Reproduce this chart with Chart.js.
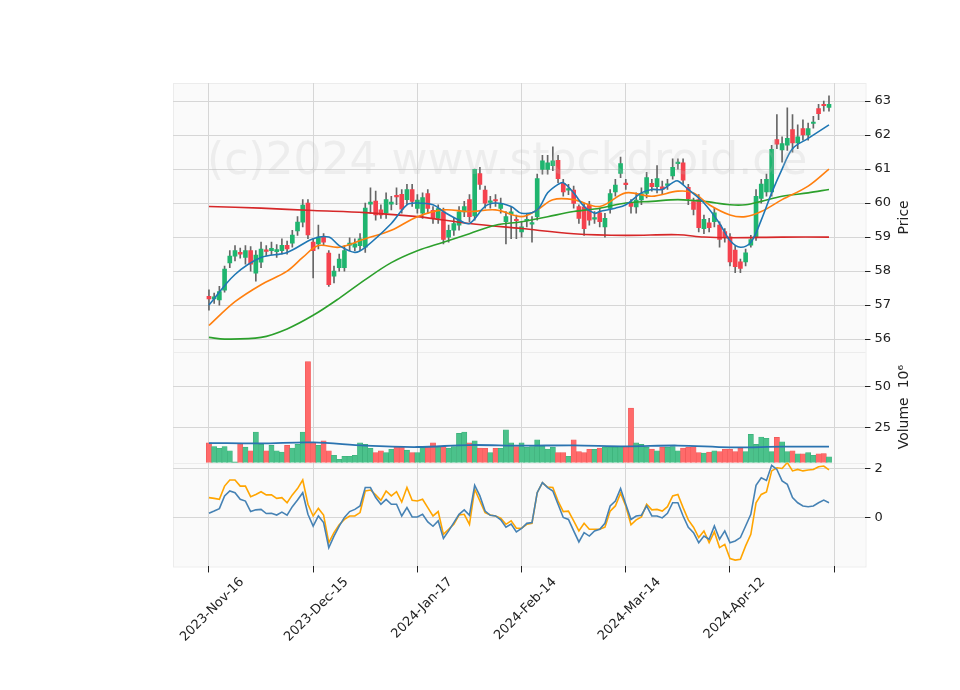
<!DOCTYPE html>
<html>
<head>
<meta charset="utf-8">
<script src="https://cdn.jsdelivr.net/npm/chart.js@4.4.1/dist/chart.umd.min.js"></script>
<style>
  html, body { margin: 0; padding: 0; background: #fff; }
  #wrap { width: 960px; height: 690px; }
</style>
</head>
<body>
<div id="wrap"><canvas id="c" width="960" height="690"></canvas></div>
<script>
/* ========= DATA ========= */
const tickLabels = ['2023-Nov-16', '2023-Dec-15', '2024-Jan-17', '2024-Feb-14', '2024-Mar-14', '2024-Apr-12', ''];

const open = [57.26,57.18,57.15,57.44,58.24,58.44,58.55,58.40,58.60,57.94,
  58.26,58.62,58.60,58.57,58.60,58.76,58.82,59.18,59.44,60.00,
  58.85,58.80,59.00,58.53,57.85,58.10,58.10,58.76,58.70,58.75,
  58.70,59.97,60.06,59.80,59.70,59.97,60.22,60.26,60.10,60.40,
  59.84,59.70,60.28,59.79,59.55,59.74,59.00,59.20,59.35,59.74,
  60.10,59.62,60.87,60.38,60.02,60.10,59.84,59.45,59.67,59.52,
  59.15,59.48,59.38,59.60,60.99,60.99,61.10,61.26,60.58,60.38,
  60.38,59.90,59.89,59.94,59.53,59.71,59.30,59.84,60.33,60.87,
  60.58,59.99,59.89,60.09,60.28,60.58,60.48,60.48,60.52,60.80,
  61.16,61.18,60.46,60.04,60.10,59.25,59.42,59.45,59.35,59.16,
  59.01,58.62,58.27,58.27,58.76,59.01,60.14,60.33,60.33,61.87,
  61.56,61.70,62.16,61.77,62.19,62.00,62.34,62.78,62.90,62.81];
const close = [57.18,57.24,57.40,58.06,58.44,58.60,58.50,58.60,58.20,58.47,
  58.65,58.58,58.67,58.63,58.76,58.65,59.06,59.44,59.94,59.06,
  58.60,59.00,58.85,57.60,58.00,58.35,58.60,58.82,58.80,58.95,
  59.85,60.03,59.65,59.65,60.10,60.03,60.18,59.82,60.40,60.05,
  60.09,60.16,59.84,59.55,59.84,58.93,59.20,59.40,59.74,59.90,
  59.60,60.99,60.55,60.00,60.06,60.06,59.99,59.60,59.74,59.48,
  59.30,59.52,59.42,60.72,61.24,61.18,61.24,60.72,60.33,60.42,
  59.99,59.55,59.25,59.50,59.57,59.45,59.55,60.28,60.53,61.16,
  60.54,59.90,60.09,60.28,60.75,60.48,60.72,60.40,60.56,61.05,
  61.20,60.67,60.13,59.81,59.28,59.52,59.28,59.71,58.93,59.01,
  58.27,58.13,58.08,58.54,58.93,60.20,60.56,60.70,61.58,61.73,
  61.75,61.90,61.77,61.95,62.00,62.19,62.38,62.63,62.86,62.90];
const high = [57.45,57.35,57.55,58.15,58.60,58.75,58.68,58.75,58.72,58.60,
  58.85,58.75,58.85,58.78,58.95,58.88,59.20,59.60,60.10,60.10,
  58.95,59.35,59.10,58.60,58.15,58.50,58.75,58.98,58.95,59.10,
  60.00,60.45,60.35,59.95,60.30,60.20,60.45,60.40,60.55,60.55,
  60.25,60.30,60.40,59.90,59.95,59.85,59.35,59.55,59.90,60.05,
  60.25,61.00,61.05,60.50,60.20,60.25,60.15,59.75,59.90,59.65,
  59.45,59.70,59.60,60.85,61.40,61.40,61.65,61.40,60.70,60.55,
  60.50,59.95,60.00,60.05,59.75,59.85,59.70,60.40,60.70,61.35,
  60.70,60.10,60.30,60.45,60.90,60.70,61.10,60.65,60.70,61.30,
  61.30,61.30,60.55,60.15,60.25,59.65,59.55,59.85,59.45,59.25,
  59.10,58.75,58.35,58.65,59.05,60.40,60.70,60.85,61.70,62.60,
  61.95,62.80,62.60,62.30,62.45,62.35,62.55,62.90,63.00,63.15];
const low = [56.85,57.05,57.00,57.38,58.10,58.30,58.38,58.20,58.00,57.70,
  58.10,58.45,58.48,58.40,58.50,58.50,58.70,59.05,59.30,58.95,
  57.80,58.65,58.75,57.55,57.65,58.00,58.00,58.60,58.60,58.60,
  58.55,59.70,59.50,59.55,59.55,59.80,59.95,59.70,59.95,59.90,
  59.70,59.55,59.70,59.40,59.40,58.80,58.85,59.05,59.20,59.60,
  59.45,59.50,60.40,59.85,59.85,59.90,59.70,58.80,58.95,58.95,
  59.00,59.30,58.85,59.50,60.85,60.85,60.95,60.60,60.20,60.25,
  59.85,59.40,59.05,59.35,59.40,59.30,59.00,59.70,60.20,60.75,
  60.40,59.70,59.70,59.95,60.15,60.35,60.30,60.25,60.40,60.70,
  61.00,60.55,59.95,59.65,59.15,59.10,59.15,59.30,58.70,58.85,
  58.15,57.95,57.95,58.15,58.70,58.90,60.00,60.20,60.20,61.60,
  61.20,61.55,61.50,61.60,61.85,61.85,62.20,62.45,62.70,62.70];

// sampled moving averages: [index, value]
const ma1 = [[0,57.0],[5,57.9],[10,58.4],[15,58.55],[20,58.95],[23,59.0],[25,58.75],[28,58.55],[30,58.7],[35,59.4],[38,59.95],[40,60.0],[43,59.95],[45,59.75],[48,59.5],[50,59.4],[53,59.9],[55,60.0],[58,59.9],[60,59.7],[63,59.8],[65,60.3],[67,60.55],[68,60.6],[70,60.3],[72,59.9],[74,59.7],[75,59.75],[78,59.85],[80,59.95],[83,60.3],[85,60.4],[87,60.4],[89,60.6],[90,60.65],[92,60.4],[95,60.0],[98,59.4],[100,58.9],[102,58.7],[104,58.85],[106,59.5],[108,60.3],[110,61.0],[112,61.6],[115,61.9],[119,62.3]];
const ma2 = [[0,56.4],[5,57.1],[10,57.6],[15,58.0],[18,58.4],[21,58.75],[25,58.7],[30,58.95],[35,59.2],[40,59.6],[45,59.8],[50,59.75],[55,59.8],[60,59.6],[63,59.8],[66,60.1],[70,60.1],[75,59.9],[80,60.3],[85,60.2],[90,60.35],[93,60.3],[96,59.95],[100,59.65],[103,59.6],[106,59.75],[110,60.1],[115,60.5],[119,61.0]];
const ma3 = [[0,56.05],[3,56.0],[10,56.05],[15,56.3],[20,56.7],[25,57.2],[30,57.75],[35,58.25],[40,58.6],[45,58.85],[50,59.1],[55,59.35],[60,59.45],[65,59.6],[70,59.75],[75,59.85],[80,60.0],[85,60.05],[90,60.1],[95,60.05],[100,59.95],[103,59.95],[106,60.05],[110,60.2],[115,60.3],[119,60.4]];
const ma4 = [[0,59.9],[10,59.85],[20,59.78],[30,59.72],[40,59.6],[50,59.4],[60,59.25],[70,59.1],[80,59.05],[90,59.07],[95,59.0],[100,58.98],[110,59.0],[119,59.0]];

const volume = [15.9,13.7,12.6,13.7,11.1,4.5,15.5,13.3,11.1,22.5,
  15.0,11.1,14.4,11.1,10.4,14.4,12.8,15.0,22.5,65.0,
  15.9,14.4,17.2,11.1,8.4,6.0,7.8,7.8,8.4,15.9,
  15.0,12.6,10.0,11.1,10.0,12.0,13.7,13.7,11.5,10.0,
  10.0,13.7,13.7,15.9,13.7,13.7,12.8,13.7,21.6,22.5,
  15.9,17.2,12.8,12.6,10.0,12.6,12.6,23.8,15.9,13.7,
  15.9,13.3,13.7,17.7,14.4,12.2,13.3,10.0,10.0,7.8,
  17.7,10.6,10.0,12.0,12.0,12.8,13.3,13.3,13.3,13.7,
  13.7,36.9,15.9,15.0,13.3,12.2,11.1,13.3,13.3,13.7,
  11.1,12.8,13.3,13.7,10.0,9.8,10.4,11.1,10.6,12.0,
  12.0,10.6,12.8,10.6,21.0,15.0,19.4,18.7,10.6,19.2,
  16.6,10.6,11.1,9.3,9.3,10.0,8.4,9.3,9.5,7.5];
const volMa = [[0,15.8],[10,15.6],[20,16.2],[30,14.2],[40,13.4],[50,14.6],[60,14.2],[70,14.4],[80,13.8],[90,14.3],[100,13.2],[110,13.6],[119,13.6]];

const macd = [0.17,0.26,0.36,0.88,1.08,1.01,0.74,0.67,0.24,0.31,
  0.33,0.16,0.17,0.10,0.22,0.09,0.44,0.71,1.01,0.13,
  -0.35,0.06,-0.21,-1.23,-0.76,-0.35,0.00,0.24,0.33,0.47,
  1.22,1.22,0.81,0.54,0.74,0.54,0.54,0.06,0.40,0.02,
  0.02,0.13,-0.18,-0.36,-0.14,-0.86,-0.55,-0.21,0.13,0.31,
  0.09,1.31,0.88,0.26,0.09,0.06,-0.10,-0.40,-0.27,-0.59,
  -0.45,-0.24,-0.21,1.01,1.42,1.22,1.08,0.54,0.00,-0.08,
  -0.55,-1.00,-0.62,-0.76,-0.55,-0.48,-0.24,0.47,0.67,1.18,
  0.54,-0.08,0.06,0.09,0.47,0.06,0.06,-0.02,0.17,0.60,
  0.60,0.06,-0.40,-0.62,-1.03,-0.76,-0.89,-0.35,-0.89,-0.55,
  -1.03,-0.96,-0.82,-0.35,0.13,1.31,1.62,1.51,2.13,1.96,
  1.49,1.35,0.81,0.60,0.47,0.44,0.47,0.60,0.71,0.60];
const signal = [0.81,0.78,0.74,1.28,1.53,1.53,1.28,1.28,0.85,0.94,
  1.05,0.92,0.92,0.78,0.81,0.60,0.92,1.18,1.53,0.54,
  0.06,0.37,0.10,-1.03,-0.62,-0.30,-0.08,0.06,0.06,0.20,
  1.08,1.12,0.92,0.70,1.08,0.88,1.05,0.63,1.22,0.70,
  0.67,0.74,0.40,0.06,0.24,-0.69,-0.48,-0.28,0.10,0.13,
  -0.28,1.15,0.67,0.20,0.10,0.06,-0.03,-0.28,-0.14,-0.44,
  -0.44,-0.28,-0.24,1.01,1.42,1.24,1.22,0.67,0.24,0.26,
  -0.14,-0.55,-0.24,-0.48,-0.48,-0.48,-0.40,0.26,0.47,0.99,
  0.47,-0.30,-0.10,0.02,0.54,0.31,0.33,0.26,0.44,0.88,
  0.94,0.40,-0.10,-0.40,-0.82,-0.55,-1.03,-0.59,-1.23,-1.10,
  -1.68,-1.74,-1.71,-1.16,-0.69,0.60,0.94,1.04,1.90,2.03,
  2.00,2.24,1.90,1.96,1.90,1.94,1.96,2.07,2.10,1.94];

/* ========= HELPERS ========= */
const UP = '#1fb56f', DOWN = '#f5424e';
const VUP = '#4bc28b', VDOWN = '#ff6a6a';
const idx = open.map((_, i) => i);
const isUp = i => close[i] >= open[i];
const pts = arr => arr.map(([x, y]) => ({ x, y }));
const line = (data, color, yAxisID, w, tension) => ({
  type: 'line', data, borderColor: color, borderWidth: w || 1.6,
  pointRadius: 0, tension: tension === undefined ? 0.35 : tension, yAxisID, order: 0
});

const bgPlugin = {
  id: 'bg',
  beforeDraw(chart) {
    const { ctx, chartArea: a, scales } = chart;
    ctx.save();
    ctx.fillStyle = '#fafafa';
    ctx.fillRect(a.left, a.top, a.right - a.left, a.bottom - a.top);
    ctx.strokeStyle = '#ececec';
    ctx.lineWidth = 1;
    ['yv', 'ym'].forEach(id => {
      const y = Math.round(scales[id].top) + 0.5;
      ctx.beginPath(); ctx.moveTo(a.left, y); ctx.lineTo(a.right, y); ctx.stroke();
    });
    ctx.strokeRect(a.left + 0.5, a.top + 0.5, a.right - a.left, a.bottom - a.top);
    ctx.restore();
  },
  afterDatasetsDraw(chart) {
    const { ctx, scales } = chart;
    ctx.save();
    ctx.font = '44px "DejaVu Sans"';
    ctx.fillStyle = 'rgba(190,190,190,0.22)';
    ctx.textBaseline = 'middle';
    ctx.fillText('(c)2024 www.stockdroid.de', 207, 163);
    // axis titles, reading bottom to top
    ctx.fillStyle = '#222';
    ctx.font = '14px "DejaVu Sans"';
    ctx.textAlign = 'center';
    const title = (text, id) => {
      const s = scales[id];
      ctx.save();
      ctx.translate(904, (s.top + s.bottom) / 2);
      ctx.rotate(-Math.PI / 2);
      ctx.fillText(text, 0, 0);
      ctx.restore();
    };
    title('Price', 'yp');
    title('Volume  10⁶', 'yv');
    ctx.restore();
  }
};

/* ========= CHART ========= */
const xTicks = [0, 20, 40, 60, 80, 100, 120];
const grid = { color: '#d6d6d6', lineWidth: 1 };
const tickFont = { family: 'DejaVu Sans', size: 13 };

new Chart(document.getElementById('c'), {
  type: 'bar',
  data: {
    datasets: [
      { label: 'wick', data: idx.map(i => ({ x: i, y: [low[i], high[i]] })),
        backgroundColor: '#666', barThickness: 1, grouped: false, yAxisID: 'yp', order: 2 },
      { label: 'body', data: idx.map(i => ({ x: i, y: [open[i], close[i]] })),
        backgroundColor: idx.map(i => isUp(i) ? UP : DOWN), barThickness: 4, minBarLength: 1.5,
        grouped: false, yAxisID: 'yp', order: 1 },
      line(pts(ma1), '#1f77b4', 'yp'),
      line(pts(ma2), '#ff7f0e', 'yp'),
      line(pts(ma3), '#2ca02c', 'yp'),
      line(pts(ma4), '#d62728', 'yp'),
      { label: 'vol', data: idx.map(i => ({ x: i, y: volume[i] })),
        backgroundColor: idx.map(i => isUp(i) ? VUP : VDOWN),
        borderColor: idx.map(i => isUp(i) ? '#3aae78' : '#f05656'), borderWidth: 0.6,
        barThickness: 5.2, grouped: false, yAxisID: 'yv', order: 3 },
      line(pts(volMa), '#2a73b0', 'yv', 1.8),
      line(idx.map(i => ({ x: i, y: macd[i] })), '#4682b4', 'ym', 1.6, 0),
      line(idx.map(i => ({ x: i, y: signal[i] })), '#ffa500', 'ym', 1.6, 0)
    ]
  },
  options: {
    responsive: false,
    animation: false,
    layout: { padding: { left: 173, top: 83, right: 65, bottom: 43 } },
    plugins: { legend: { display: false }, tooltip: { enabled: false } },
    scales: {
      x: {
        type: 'linear', min: -6.9, max: 126, offset: false,
        afterBuildTicks: s => { s.ticks = xTicks.map(v => ({ value: v })); },
        ticks: { callback: (v) => tickLabels[xTicks.indexOf(v)] || '', maxRotation: 45, minRotation: 45,
          color: '#222', font: tickFont, padding: 2, labelOffset: 33 },
        grid: { ...grid, offset: false, tickLength: 6, tickColor: '#222' },
        border: { display: false }
      },
      yp: {
        position: 'right', stack: 'p', stackWeight: 269, min: 55.63, max: 63.53,
        afterBuildTicks: s => { s.ticks = [56, 57, 58, 59, 60, 61, 62, 63].map(v => ({ value: v })); },
        ticks: { color: '#222', font: tickFont, padding: 4 },
        grid: { ...grid, tickLength: 5, tickColor: '#222' },
        border: { display: false }
      },
      yv: {
        position: 'right', stack: 'p', stackWeight: 111, min: 4, max: 71,
        afterBuildTicks: s => { s.ticks = [{ value: 25 }, { value: 50 }]; },
        ticks: { color: '#222', font: tickFont, padding: 4 },
        grid: { ...grid, tickLength: 5, tickColor: '#222' },
        border: { display: false }
      },
      ym: {
        position: 'right', stack: 'p', stackWeight: 104, min: -2.0, max: 2.24,
        afterBuildTicks: s => { s.ticks = [{ value: 0 }, { value: 2 }]; },
        ticks: { color: '#222', font: tickFont, padding: 4 },
        grid: { ...grid, tickLength: 5, tickColor: '#222' },
        border: { display: false }
      }
    }
  },
  plugins: [bgPlugin]
});
</script>
</body>
</html>
